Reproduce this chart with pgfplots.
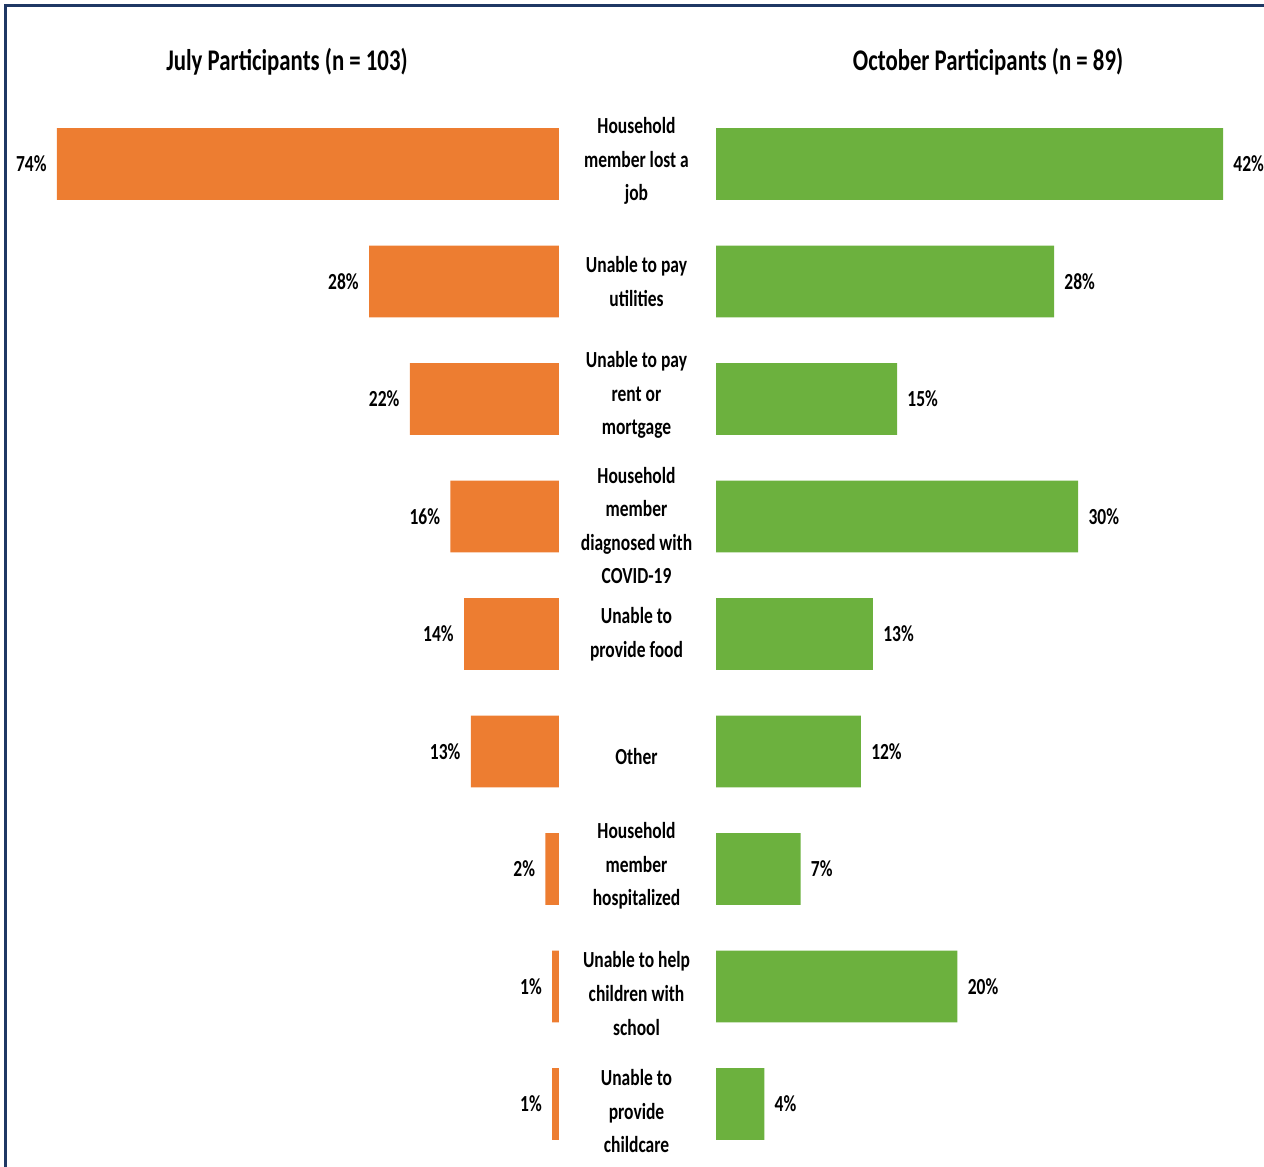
\documentclass[border=0pt]{standalone}
\usepackage{pgfplots}
\usepackage{pgfplotstable}
\pgfplotsset{compat=1.18}
\usepackage{fontspec}
\setmainfont{Carlito}[FakeStretch=0.76]
\definecolor{barorange}{HTML}{ED7D31}
\definecolor{bargreen}{HTML}{6CB13E}
\definecolor{frameblue}{HTML}{1F3864}
\pgfplotstableread{
idx july oct
0 74 42
1 28 28
2 22 15
3 16 30
4 14 13
5 13 12
6 2 7
7 1 20
8 1 4
}\datatable
\pgfplotsset{panel/.style={
  xbar, scale only axis, height=528.75pt, ymin=-0.5, ymax=8.5, y dir=reverse,
  xmin=0, bar width=0.61, axis line style={draw=none}, major tick length=0pt,
  xtick=\empty, point meta=x,
  /pgf/number format/assume math mode=true,
  nodes near coords={\pgfmathprintnumber{\pgfplotspointmeta}\%},
  every node near coord/.append style={font=\fontsize{11.5}{13}\selectfont\bfseries, inner sep=0pt, text=black},
  clip=false,
}}
\begin{document}
\begin{tikzpicture}
\path[use as bounding box] (0,0) rectangle (632pt,-583.5pt);
\draw[frameblue, line width=1.1pt] (2.75pt,-600pt) -- (2.75pt,-2.75pt) -- (650pt,-2.75pt);
\node[anchor=base, font=\fontsize{15}{18}\selectfont\bfseries] at (143.5pt,-35pt) {July Participants (n = 103)};
\node[anchor=base, font=\fontsize{15}{18}\selectfont\bfseries] at (494pt,-35pt) {October Participants (n = 89)};
\begin{axis}[panel, at={(28.5pt,-581.375pt)}, anchor=south west, width=251pt,
  xmax=74, x dir=reverse, ytick=\empty,
  every node near coord/.append style={anchor=east, xshift=-5pt}]
\addplot[fill=barorange, draw=none] table[x=july, y=idx] {\datatable};
\end{axis}
\begin{axis}[panel, at={(358pt,-581.375pt)}, anchor=south west, width=253.5pt,
  xmax=42, ytick={0,...,8},
  yticklabels={{Household\\member lost a\\job},{Unable to pay\\utilities},{Unable to pay\\rent or\\mortgage},{Household\\member\\diagnosed with\\COVID-19},{Unable to\\provide food},{Other},{Household\\member\\hospitalized},{Unable to help\\children with\\school},{Unable to\\provide\\childcare}},
  yticklabel style={anchor=center, xshift=-39.75pt, yshift={{1.5,0,2,-4.5,0,-2.5,1.5,-3.5,-3.5}[\ticknum]}, align=center, font=\fontsize{11.5}{16.8}\selectfont\bfseries, inner sep=0pt},
  every node near coord/.append style={anchor=west, xshift=5pt}]
\addplot[fill=bargreen, draw=none] table[x=oct, y=idx] {\datatable};
\end{axis}
\end{tikzpicture}
\end{document}
